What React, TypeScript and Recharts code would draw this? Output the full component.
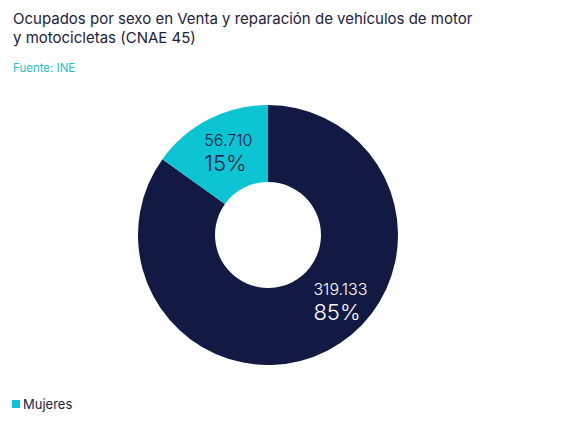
import React from "react";
import { PieChart, Pie, Cell } from "recharts";

const sexes = ["Hombres", "Mujeres"];
const ocupados = [319133, 56710];
const sliceColors = ["#121a44", "#0cc4d2"];
const labelColors = ["#ffffff", "#121a44"];
const legendItems = ["Mujeres"];

const data = sexes.map((name, i) => ({ name, value: ocupados[i] }));
const total = ocupados.reduce((a, b) => a + b, 0);

const fmt = (v: number) => String(v).replace(/\B(?=(\d{3})+(?!\d))/g, ".");

// the big slice's label sits a bit further round than its mid angle
const angleShift: Record<string, number> = { Hombres: 21, Mujeres: -3 };

const RADIAN = Math.PI / 180;

function renderLabel(props: any) {
  const { cx, cy, midAngle, innerRadius, outerRadius, index, name, value } = props;
  const r = (innerRadius + outerRadius) / 2 + 3;
  const a = (midAngle + (angleShift[name] || 0)) * RADIAN;
  // labels are left aligned, block roughly centred on the point
  const x = cx + r * Math.cos(a) - 25;
  const y = cy - r * Math.sin(a);
  const pct = Math.round((value / total) * 100);
  return (
    <text x={x} y={y} textAnchor="start" fill={labelColors[index]} fontFamily="Inter, sans-serif">
      <tspan x={x} dy={-3} fontSize={16} fontWeight={300}>{fmt(value)}</tspan>
      <tspan x={x} dy={25} fontSize={22} fontWeight={300}>{pct}%</tspan>
    </text>
  );
}

export default function App() {
  return (
    <div style={{ position: "relative", width: 565, height: 422, background: "#fff", fontFamily: "Inter, sans-serif" }}>
      <style>{`body{margin:0}`}</style>
      <div style={{ position: "absolute", left: 13, top: 9, fontSize: 15, lineHeight: "19px", color: "#1c2140" }}>
        Ocupados por sexo en Venta y reparación de vehículos de motor
        <br />
        y motocicletas (CNAE 45)
      </div>
      <div style={{ position: "absolute", left: 13, top: 61, fontSize: 11.5, color: "#1fbfcd" }}>Fuente: INE</div>
      <div style={{ position: "absolute", left: 0, top: 0 }}>
        <PieChart width={565} height={422} margin={{ top: 0, right: 0, bottom: 0, left: 0 }}>
          <Pie
            data={data}
            dataKey="value"
            nameKey="name"
            cx={268}
            cy={235}
            innerRadius={53}
            outerRadius={130}
            startAngle={90}
            endAngle={-270}
            stroke="none"
            labelLine={false}
            label={renderLabel}
            isAnimationActive={false}
          >
            {data.map((d, i) => (
              <Cell key={d.name} fill={sliceColors[i]} />
            ))}
          </Pie>
        </PieChart>
      </div>
      <div style={{ position: "absolute", left: 12, top: 396, display: "flex", alignItems: "center", fontSize: 13, color: "#1c2140" }}>
        {legendItems.map((name) => (
          <span key={name} style={{ display: "flex", alignItems: "center" }}>
            <span style={{ width: 8, height: 8, background: sliceColors[sexes.indexOf(name)], marginRight: 3 }} />
            {name}
          </span>
        ))}
      </div>
    </div>
  );
}
